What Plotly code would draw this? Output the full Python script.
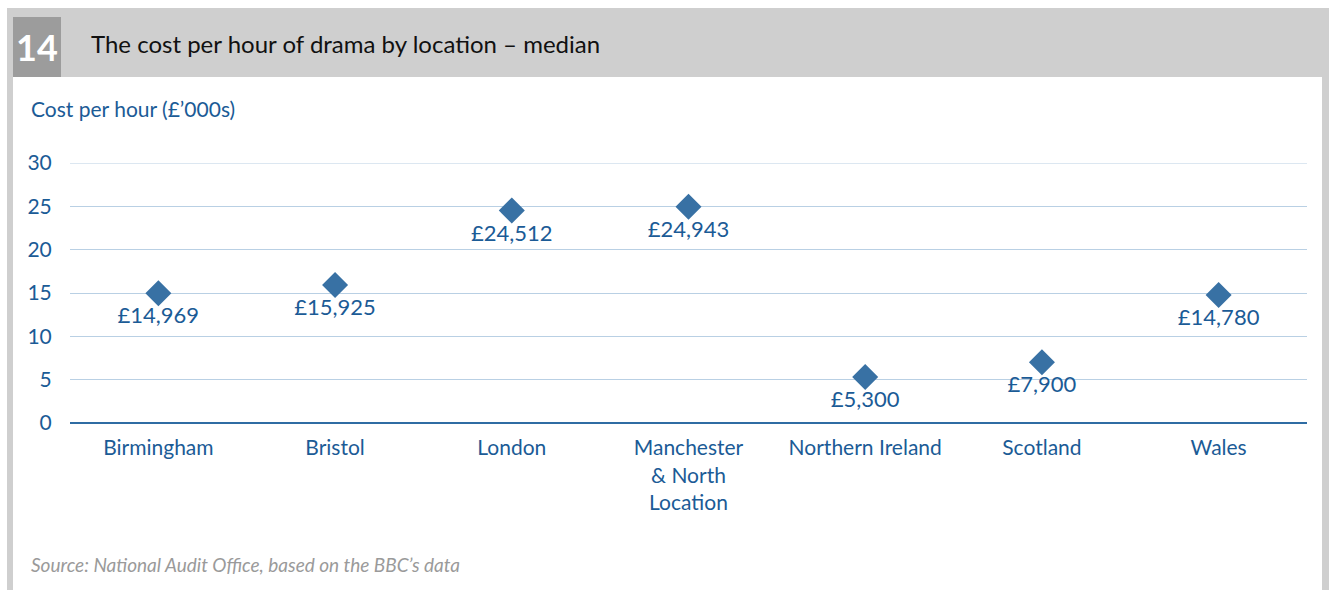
import plotly.graph_objects as go

# Data (marker heights as drawn; labels as printed)
locations = ["Birmingham", "Bristol", "London", "Manchester<br>& North<br>Location",
             "Northern Ireland", "Scotland", "Wales"]
cost_thousands = [14.969, 15.925, 24.512, 24.943, 5.300, 7.0, 14.780]
cost_labels = ["£14,969", "£15,925", "£24,512", "£24,943", "£5,300", "£7,900", "£14,780"]
y_ticks = [0, 5, 10, 15, 20, 25, 30]

W, H = 1329, 590
L, R, T, B = 70, 1307, 163, 423  # plot area in pixels

blue_text = "#1b5b96"
marker_blue = "#3871a4"
font_family = "Lato, 'Noto Sans', sans-serif"


def px_x(x):
    return (x - L) / (R - L)


def px_y(y):
    return (B - y) / (B - T)


fig = go.Figure()

fig.add_trace(go.Scatter(
    x=locations,
    y=cost_thousands,
    mode="markers+text",
    marker=dict(symbol="diamond", size=20, color=marker_blue),
    text=cost_labels,
    textposition="bottom center",
    textfont=dict(size=22, color=blue_text, family=font_family),
    hoverinfo="skip",
    cliponaxis=False,
))

# background frame shapes
shapes = [
    # header band
    dict(type="rect", xref="paper", yref="paper", x0=px_x(12), x1=px_x(1335),
         y0=px_y(77), y1=px_y(8), fillcolor="#cfcfcf", line_width=0, layer="below"),
    # number box
    dict(type="rect", xref="paper", yref="paper", x0=px_x(12), x1=px_x(61),
         y0=px_y(77), y1=px_y(17), fillcolor="#9c9c9c", line_width=0, layer="below"),
    # left strip
    dict(type="rect", xref="paper", yref="paper", x0=px_x(7), x1=px_x(13),
         y0=px_y(595), y1=px_y(8), fillcolor="#cfcfcf", line_width=0, layer="below"),
    # right strip
    dict(type="rect", xref="paper", yref="paper", x0=px_x(1322), x1=px_x(1335),
         y0=px_y(595), y1=px_y(77), fillcolor="#cfcfcf", line_width=0, layer="below"),
    # top gridline at 30
    dict(type="line", xref="paper", yref="y", x0=0, x1=1, y0=30, y1=30,
         line=dict(color="#b9d0e4", width=1), layer="below"),
]

annotations = [
    dict(text="<b>14</b>", x=px_x(37), y=px_y(47), xref="paper", yref="paper",
         showarrow=False, xanchor="center", yanchor="middle",
         font=dict(size=36, color="white", family=font_family)),
    dict(text="The cost per hour of drama by location – median", x=px_x(89), y=px_y(43),
         xref="paper", yref="paper", showarrow=False, xanchor="left", yanchor="middle",
         font=dict(size=24, color="#111111", family=font_family)),
    dict(text="Cost per hour (£’000s)", x=px_x(29), y=px_y(108),
         xref="paper", yref="paper", showarrow=False, xanchor="left", yanchor="middle",
         font=dict(size=21, color=blue_text, family=font_family)),
    dict(text="<i>Source: National Audit Office, based on the BBC’s data</i>", x=px_x(29), y=px_y(564),
         xref="paper", yref="paper", showarrow=False, xanchor="left", yanchor="middle",
         font=dict(size=19, color="#9a9a9a", family=font_family)),
]

fig.update_layout(
    width=W, height=H,
    margin=dict(l=L, r=W - R, t=T, b=H - B, pad=0),
    paper_bgcolor="white",
    plot_bgcolor="white",
    showlegend=False,
    shapes=shapes,
    annotations=annotations,
    font=dict(family=font_family, color=blue_text),
)

fig.update_xaxes(
    type="category",
    range=[-0.5, len(locations) - 0.5],
    showgrid=False,
    showline=False,
    ticks="outside", ticklen=6, tickcolor="rgba(0,0,0,0)",
    tickfont=dict(size=21, color=blue_text, family=font_family),
    fixedrange=True,
)

fig.update_yaxes(
    range=[0, 30],
    tickvals=y_ticks,
    showgrid=True, gridcolor="#b9d0e4", gridwidth=1,
    zeroline=True, zerolinecolor="#2f6ca3", zerolinewidth=2,
    showline=False,
    ticks="outside", ticklen=13, tickcolor="rgba(0,0,0,0)",
    tickfont=dict(size=21, color=blue_text, family=font_family),
    fixedrange=True,
)

fig.write_html("out.html", config={"displayModeBar": False},
               post_script="document.body.style.margin='0px';")
